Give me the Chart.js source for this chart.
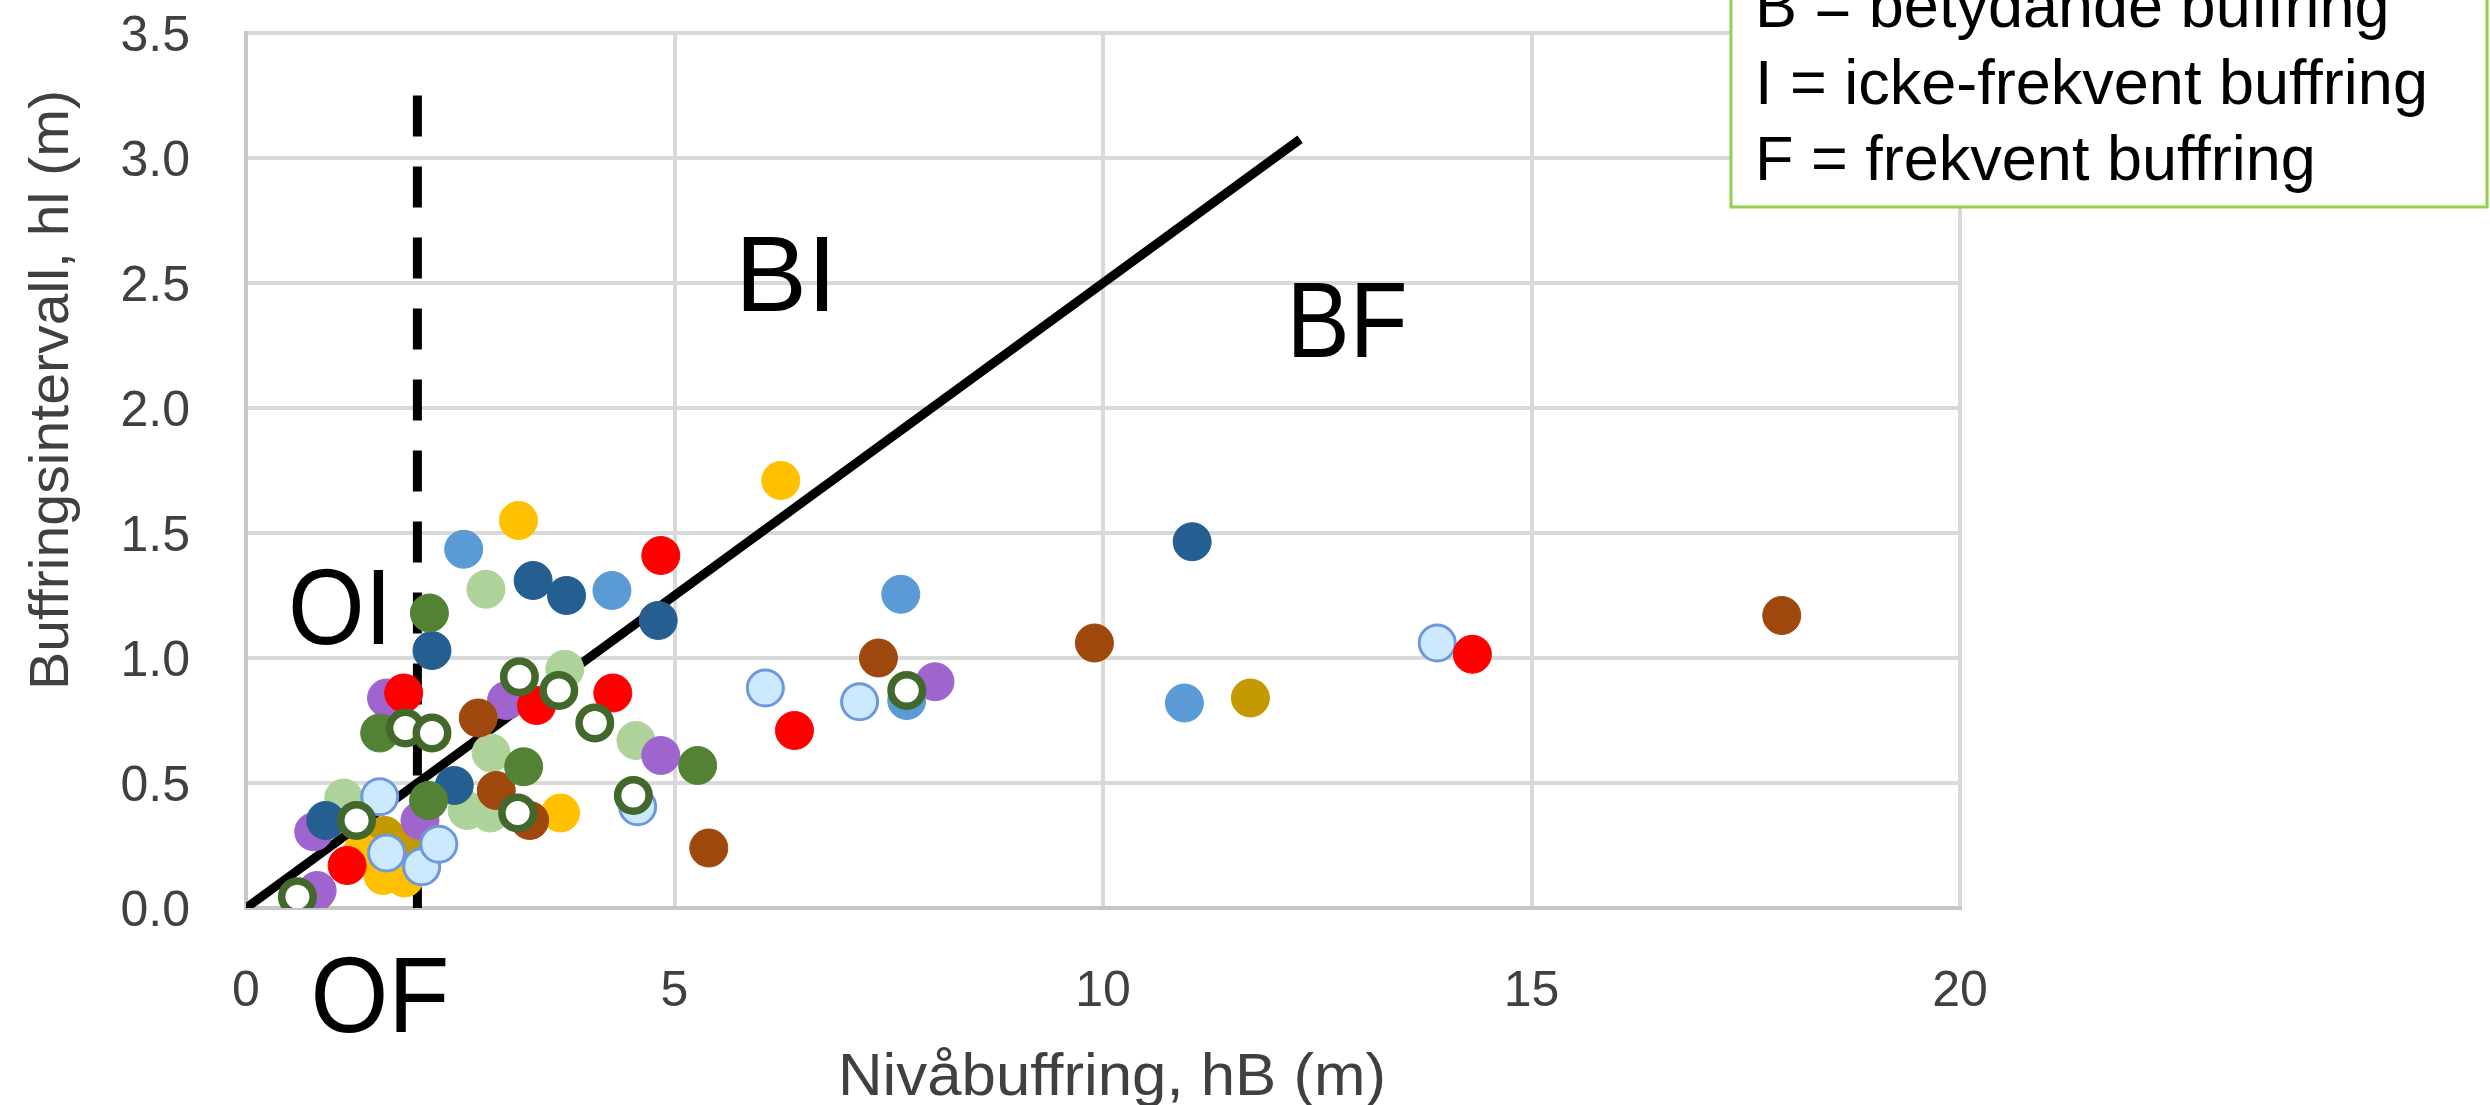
<!DOCTYPE html>
<html lang="sv">
<head>
<meta charset="UTF-8">
<title>Buffringsintervall mot nivåbuffring</title>
<script src="https://cdn.jsdelivr.net/npm/chart.js"></script>
<style>
  html, body { margin: 0; padding: 0; background: #fff; }
  #wrap { width: 2490px; height: 1105px; position: relative; }
</style>
</head>
<body>
<div id="wrap"><canvas id="chart" width="2490" height="1105"></canvas></div>
<script>
// tick labels
var xTicks = [0, 5, 10, 15, 20];
var yTicks = ['0.0', '0.5', '1.0', '1.5', '2.0', '2.5', '3.0', '3.5'];

// hB (m), hI (m) per station group
var red = [[4.84, 1.41], [1.84, 0.86], [3.39, 0.81], [4.28, 0.86], [6.40, 0.71], [14.31, 1.015], [1.18, 0.17]];
var darkBlue = [[11.04, 1.465], [3.35, 1.31], [3.74, 1.25], [4.81, 1.15], [2.17, 1.03], [2.43, 0.49], [0.93, 0.35]];
var lightBlue = [[2.54, 1.435], [4.27, 1.27], [7.64, 1.255], [10.95, 0.82], [7.71, 0.83]];
var yellow = [[3.18, 1.55], [6.24, 1.71], [3.67, 0.38], [1.60, 0.13], [1.85, 0.12], [1.35, 0.22]];
var gold = [[11.72, 0.84], [1.62, 0.29], [1.95, 0.27], [0.81, 0.06]];
var brown = [[17.92, 1.17], [9.90, 1.06], [7.38, 1.0], [2.71, 0.76], [2.92, 0.47], [3.31, 0.35], [5.40, 0.24]];
var purple = [[8.04, 0.905], [1.64, 0.84], [3.04, 0.83], [4.84, 0.61], [0.79, 0.305], [2.03, 0.35], [0.83, 0.07]];
var darkGreen = [[2.14, 1.18], [1.56, 0.70], [5.27, 0.57], [3.24, 0.565], [2.13, 0.43]];
var lightGreen = [[2.80, 1.275], [3.72, 0.955], [4.55, 0.67], [2.86, 0.62], [2.58, 0.39], [2.85, 0.38], [1.14, 0.44]];
var hollowBlue = [[13.9, 1.06], [6.06, 0.88], [7.16, 0.825], [4.57, 0.405], [1.56, 0.445], [1.64, 0.22], [2.05, 0.165], [2.25, 0.255]];
var hollowGreen = [[7.71, 0.87], [1.86, 0.72], [2.17, 0.70], [3.19, 0.925], [3.65, 0.87], [4.07, 0.74], [3.17, 0.38], [4.52, 0.45], [1.29, 0.35], [0.60, 0.045]];

// zone boundaries: hI = hB / 4 and hB = 2 m
var boundaryLine = [[0, 0], [12.3, 3.075]];
var dividerLine = [[2, 3.25], [2, 0]];

var zoneLabels = [
    { text: 'BI', x: 786, y: 311, w: 102 },
    { text: 'BF', x: 1347, y: 357, w: 121 },
    { text: 'OI', x: 340, y: 644, w: 104 },
    { text: 'OF', x: 380, y: 1032, w: 139 }
];
var legendLines = ['B = betydande buffring', 'I = icke-frekvent buffring', 'F = frekvent buffring'];

var FONT = '"Liberation Sans", Arial, sans-serif';
var R = 19.5; // outer marker radius

function pts(list) {
    return list.map(function (p) { return { x: p[0], y: p[1] }; });
}

function filled(list, color, order) {
    return {
        data: pts(list), order: order,
        backgroundColor: color, borderColor: color,
        pointRadius: R - 0.5, pointBorderWidth: 1, pointHoverRadius: R - 0.5
    };
}

function hollow(list, fill, stroke, width, order) {
    return {
        data: pts(list), order: order,
        backgroundColor: fill, borderColor: stroke,
        pointRadius: R - width / 2, pointBorderWidth: width, pointHoverRadius: R - width / 2
    };
}

function line(list, dash, order) {
    return {
        data: pts(list), order: order, showLine: true,
        borderColor: '#000', borderWidth: 9, borderDash: dash,
        pointRadius: 0, pointHoverRadius: 0, borderCapStyle: 'butt'
    };
}

function drawText(ctx, text, x, y, size, width, align, color) {
    ctx.save();
    ctx.font = size + 'px ' + FONT;
    var sx = width ? width / ctx.measureText(text).width : 1;
    ctx.translate(x, y);
    ctx.scale(sx, 1);
    ctx.textAlign = align || 'center';
    ctx.textBaseline = 'alphabetic';
    ctx.fillStyle = color || '#000';
    ctx.fillText(text, 0, 0);
    ctx.restore();
}

var annotations = {
    id: 'annotations',
    afterDraw: function (chart) {
        var ctx = chart.ctx;
        var xs = chart.scales.x, ys = chart.scales.y;

        // axis tick labels
        xTicks.forEach(function (v) {
            drawText(ctx, String(v), xs.getPixelForValue(v), 1006, 50, null, 'center', '#404040');
        });
        yTicks.forEach(function (t) {
            drawText(ctx, t, 190, ys.getPixelForValue(parseFloat(t)) + 18, 50, null, 'right', '#404040');
        });

        // axis titles
        drawText(ctx, 'Nivåbuffring, hB (m)', 1112, 1095, 59, 548, 'center', '#404040');
        ctx.save();
        ctx.translate(68, 390);
        ctx.rotate(-Math.PI / 2);
        drawText(ctx, 'Buffringsintervall, hl (m)', 0, 0, 56, 600, 'center', '#404040');
        ctx.restore();

        // zone labels
        zoneLabels.forEach(function (z) {
            drawText(ctx, z.text, z.x, z.y, 108, z.w, 'center', '#000');
        });

        // explanation box
        ctx.save();
        ctx.fillStyle = '#fff';
        ctx.fillRect(1731, -10, 756, 217);
        ctx.strokeStyle = '#92d050';
        ctx.lineWidth = 3;
        ctx.strokeRect(1731, -10, 756, 217);
        ctx.restore();
        legendLines.forEach(function (t, i) {
            drawText(ctx, t, 1755, 27 + i * 76.5, 63, null, 'left', '#000');
        });
    }
};

new Chart(document.getElementById('chart'), {
    type: 'scatter',
    data: {
        datasets: [
            line(boundaryLine, [], 30),
            line(dividerLine, [41, 30], 30),
            filled(lightGreen, '#aed39a', 11),
            filled(gold, '#c49a00', 10),
            filled(yellow, '#ffc000', 9),
            filled(purple, '#a064ce', 8),
            filled(brown, '#9e480e', 7),
            filled(lightBlue, '#5b9bd5', 6),
            filled(darkBlue, '#255e91', 5),
            filled(darkGreen, '#548235', 4),
            hollow(hollowBlue, '#cde9ff', '#6e98dc', 3, 3),
            filled(red, '#ff0000', 2),
            hollow(hollowGreen, '#ffffff', '#43682b', 7.5, 1)
        ]
    },
    options: {
        responsive: false,
        devicePixelRatio: 1,
        animation: false,
        layout: { padding: { left: 246, top: 33, right: 530, bottom: 197 } },
        plugins: { legend: { display: false }, tooltip: { enabled: false } },
        scales: {
            x: {
                type: 'linear', min: 0, max: 20,
                ticks: { display: false, stepSize: 5 },
                grid: { color: '#d9d9d9', lineWidth: 4, drawTicks: false },
                border: { color: '#c6c6c6', width: 4 }
            },
            y: {
                type: 'linear', min: 0, max: 3.5,
                ticks: { display: false, stepSize: 0.5 },
                grid: { color: '#d9d9d9', lineWidth: 4, drawTicks: false },
                border: { color: '#c6c6c6', width: 4 }
            }
        }
    },
    plugins: [annotations]
});
</script>
</body>
</html>
